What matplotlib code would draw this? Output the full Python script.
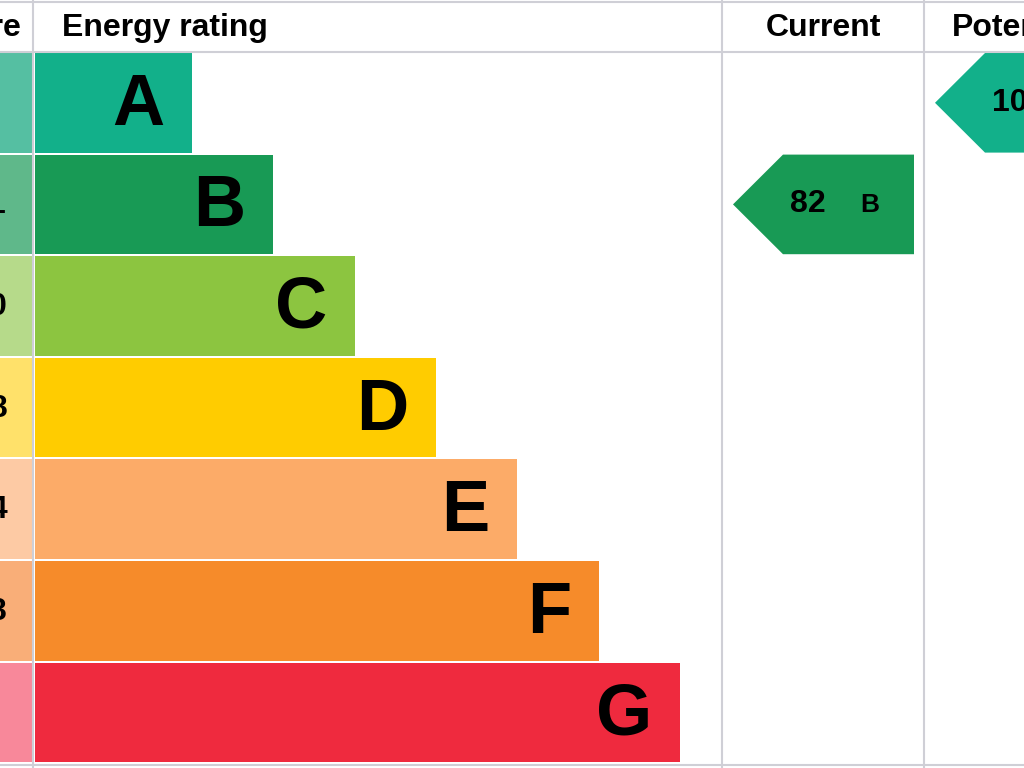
import matplotlib
matplotlib.use("Agg")
import matplotlib.pyplot as plt
from matplotlib.patches import Rectangle, Polygon

letters = ["A", "B", "C", "D", "E", "F", "G"]
score_labels = ["92+", "81-91", "69-80", "55-68", "39-54", "21-38", "1-20"]
bar_right = [192, 273, 355, 436, 517, 599, 680]
colors = ["#12b08a", "#189a55", "#8cc540", "#ffcc00", "#fcab68", "#f68b2a", "#ef2a3e"]
light = ["#55bfa2", "#5fb88a", "#b6da8a", "#ffe16a", "#fdcaa4", "#f9ae78", "#f8889a"]
current_value, current_band = 82, "B"
potential_value, potential_band = 100, "A"

fig = plt.figure(figsize=(10.24, 7.68), dpi=100)
ax = fig.add_axes([0, 0, 1, 1])
ax.set_xlim(0, 1024); ax.set_ylim(768, 0); ax.axis("off")

top = 52; h = 101.6
grid = "#cfcfd6"
for x in [33, 722, 924]:
    ax.plot([x, x], [0, 768], color=grid, lw=1.5)
ax.plot([0, 1024], [top, top], color=grid, lw=1.5)
ax.plot([0, 1024], [2, 2], color=grid, lw=1.5)
ax.plot([0, 1024], [765, 765], color=grid, lw=1.5)

hf = dict(fontsize=23, fontweight="bold", va="center", family="Liberation Sans")
ax.text(21, 28, "Score", ha="right", **hf)
ax.text(62, 28, "Energy rating", ha="left", **hf)
ax.text(823, 28, "Current", ha="center", **hf)
ax.text(952, 28, "Potential", ha="left", **hf)

label_right = [-3, 6, 8, 8, 8, 8, -3]
for i, L in enumerate(letters):
    y0 = top + i * h + 1
    ax.add_patch(Rectangle((0, y0), 33, h - 2, color=light[i], lw=0))
    ax.add_patch(Rectangle((35, y0), bar_right[i] - 35, h - 2, color=colors[i], lw=0))
    ax.text(bar_right[i] - 28, y0 + h / 2 + 2, L, ha="right", va="center", fontsize=52,
            fontweight="bold", family="Liberation Sans")
    ax.text(label_right[i], y0 + h / 2, score_labels[i], ha="right", va="center", fontsize=23,
            fontweight="bold", family="Liberation Sans")

def arrow(value, band, x_tip, x_right):
    i = letters.index(band)
    y0 = top + i * h + 1; y1 = y0 + h - 2; ym = (y0 + y1) / 2
    ax.add_patch(Polygon([(x_tip, ym), (x_tip + 50, y0), (x_right, y0), (x_right, y1),
                          (x_tip + 50, y1)], closed=True, color=colors[i], lw=0))
    ax.text(x_tip + 57, ym, str(value), ha="left", va="center", fontsize=23,
            fontweight="bold", family="Liberation Sans")
    ax.text(x_tip + 127, ym + 1, band, ha="left", va="center", fontsize=19,
            fontweight="bold", family="Liberation Sans")

arrow(current_value, current_band, 733, 914)
arrow(potential_value, potential_band, 935, 1100)

fig.savefig("out.png", dpi=100)
